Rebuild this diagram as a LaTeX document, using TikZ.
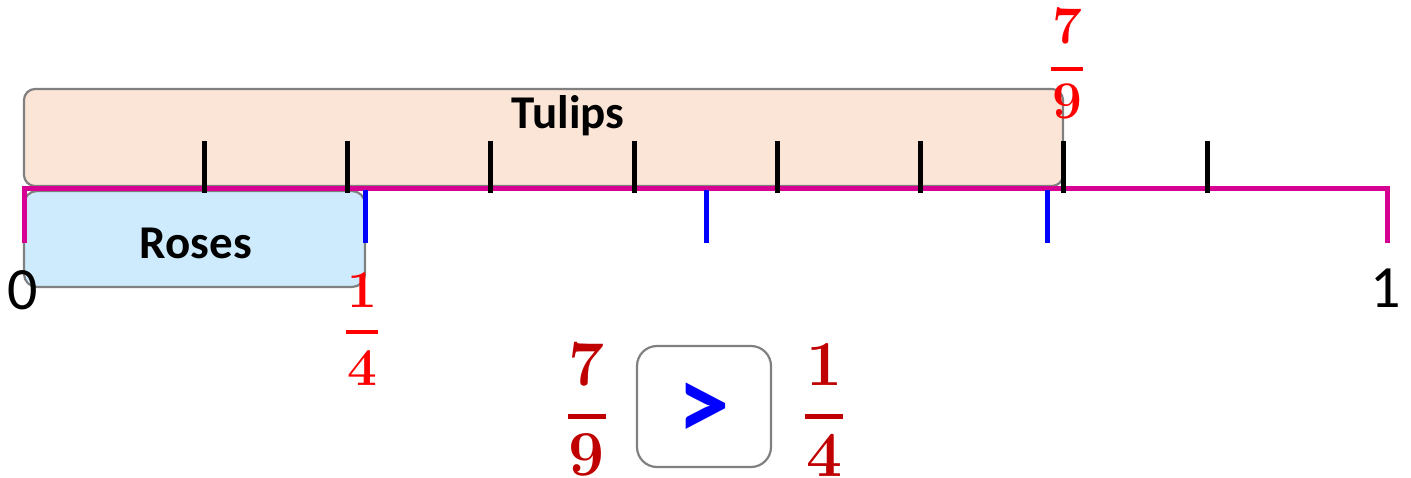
\documentclass[tikz,border=0pt]{standalone}
\usepackage{fontspec}
\setmainfont{Carlito}
\newfontfamily\fracfont{Latin Modern Roman}
\definecolor{magline}{RGB}{214,0,147}
\definecolor{tulipfill}{RGB}{251,229,214}
\definecolor{rosefill}{RGB}{205,235,252}
\definecolor{boxgray}{RGB}{128,128,128}
\definecolor{fracred}{RGB}{255,0,0}
\definecolor{darkred}{RGB}{192,0,0}
\definecolor{tickblue}{RGB}{0,0,255}
\begin{document}
\begin{tikzpicture}[x=1pt,y=-1pt,
  barbox/.style={draw=boxgray, line width=2.2pt},
  ninth/.style={line width=5pt, black},
  quarter/.style={line width=5pt, tickblue},
  numline/.style={line width=5pt, magline},
  barlabel/.style={font=\fontsize{47}{47}\selectfont\bfseries, inner sep=0pt},
  endlabel/.style={font=\fontsize{60}{60}\selectfont, inner sep=0pt},
  fdigit/.style={font=\fontsize{53}{53}\selectfont\fracfont\bfseries, inner sep=0pt, text=fracred},
  fbar/.style={line width=4.5pt, fracred},
  bdigit/.style={font=\fontsize{64}{64}\selectfont\fracfont\bfseries, inner sep=0pt, text=darkred},
  bbar/.style={line width=5pt, darkred},
]
\useasboundingbox (0,0) rectangle (1411,478);
% boxes
\draw[barbox, fill=tulipfill, rounded corners=11pt] (24,89) rectangle (1063,186);
\draw[barbox, fill=rosefill, rounded corners=13pt] (24,191) rectangle (365,287);
\node[barlabel] (tulips) at (568,116) {Tulips};
\node[barlabel] (roses) at (196,243) {Roses};
% number line
\draw[numline] (24,243) -- (24,189) -- (1387,189) -- (1387,243);
\foreach \x in {204,347,490,634,777,920,1063,1207}
  \draw[ninth] (\x,141) -- (\x,193);
\foreach \x in {365,706,1047}
  \draw[quarter] (\x,190) -- (\x,243);
% end labels
\node[endlabel] (zero) at (23,290) {0};
\node[endlabel] (one) at (1386,288) {1};
% 7/9 above
\node[fdigit] (sevtop) at (1067,26) {7};
\draw[fbar] (1051,69) -- (1083,69);
\node[fdigit] (nintop) at (1067,101) {9};
% 1/4 below
\node[fdigit] (onetop) at (362,290) {1};
\draw[fbar] (346,332) -- (378,332);
\node[fdigit] (foutop) at (362,368) {4};
% comparison
\node[bdigit] (sevb) at (587,364) {7};
\draw[bbar] (568,416) -- (606,416);
\node[bdigit] (ninb) at (587,455) {9};
\draw[barbox, rounded corners=20pt] (637,346) rectangle (771,467);
\node[font=\fontsize{105}{105}\selectfont\bfseries, text=tickblue, inner sep=0pt] (gt) at (704,411) {>};
\node[bdigit] (oneb) at (825,365) {1};
\draw[bbar] (805,416) -- (843,416);
\node[bdigit] (foub) at (825,455) {4};
\end{tikzpicture}
\end{document}
